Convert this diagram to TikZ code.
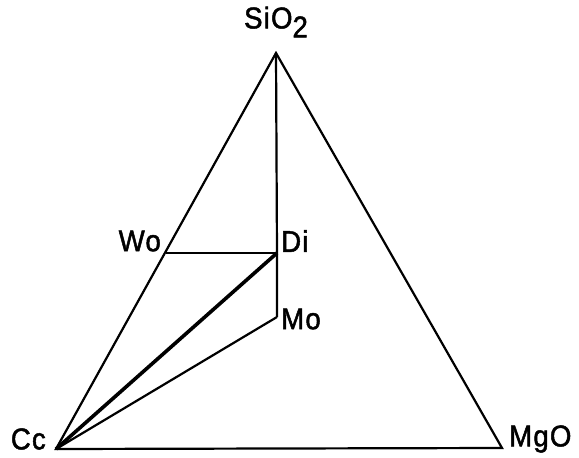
\documentclass[tikz,border=0pt]{standalone}
\usepackage{fontspec}
\setmainfont{Liberation Sans}
\newfontfamily\lblfont[FakeBold=1.6,FakeStretch=0.92,LetterSpace=4]{Liberation Sans}
\newcommand{\lowtwo}{\raisebox{-0.3em}{2}}
\begin{document}
\begin{tikzpicture}[x=1pt,y=-1pt,
  lbl/.style={inner sep=0pt,font=\lblfont\fontsize{30}{32}\selectfont},
  edge/.style={line width=2.2pt,line join=miter},
  thick edge/.style={line width=3.6pt}]
\useasboundingbox (0,0) rectangle (579,458);
\coordinate (S) at (276,53);
\coordinate (C) at (56,449);
\coordinate (M) at (502,448);
\coordinate (W) at (166,253);
\coordinate (D) at (277,253);
\coordinate (O) at (277,317);
\draw[edge] (C) -- (S) -- (M) -- cycle;
\draw[edge] (S) -- (D) -- (O);
\draw[edge] (W) -- (D);
\draw[thick edge] (C) -- (D);
\draw[edge] (C) -- (O);
\node[lbl] (lS) at (276,22) {SiO\lowtwo};
\node[lbl,anchor=east] (lW) at (161,241) {Wo};
\node[lbl,anchor=west] (lD) at (281,241) {Di};
\node[lbl,anchor=west] (lO) at (281,319) {Mo};
\node[lbl,anchor=east] (lC) at (46,439) {Cc};
\node[lbl,anchor=west] (lM) at (509,439) {MgO};
\end{tikzpicture}
\end{document}
